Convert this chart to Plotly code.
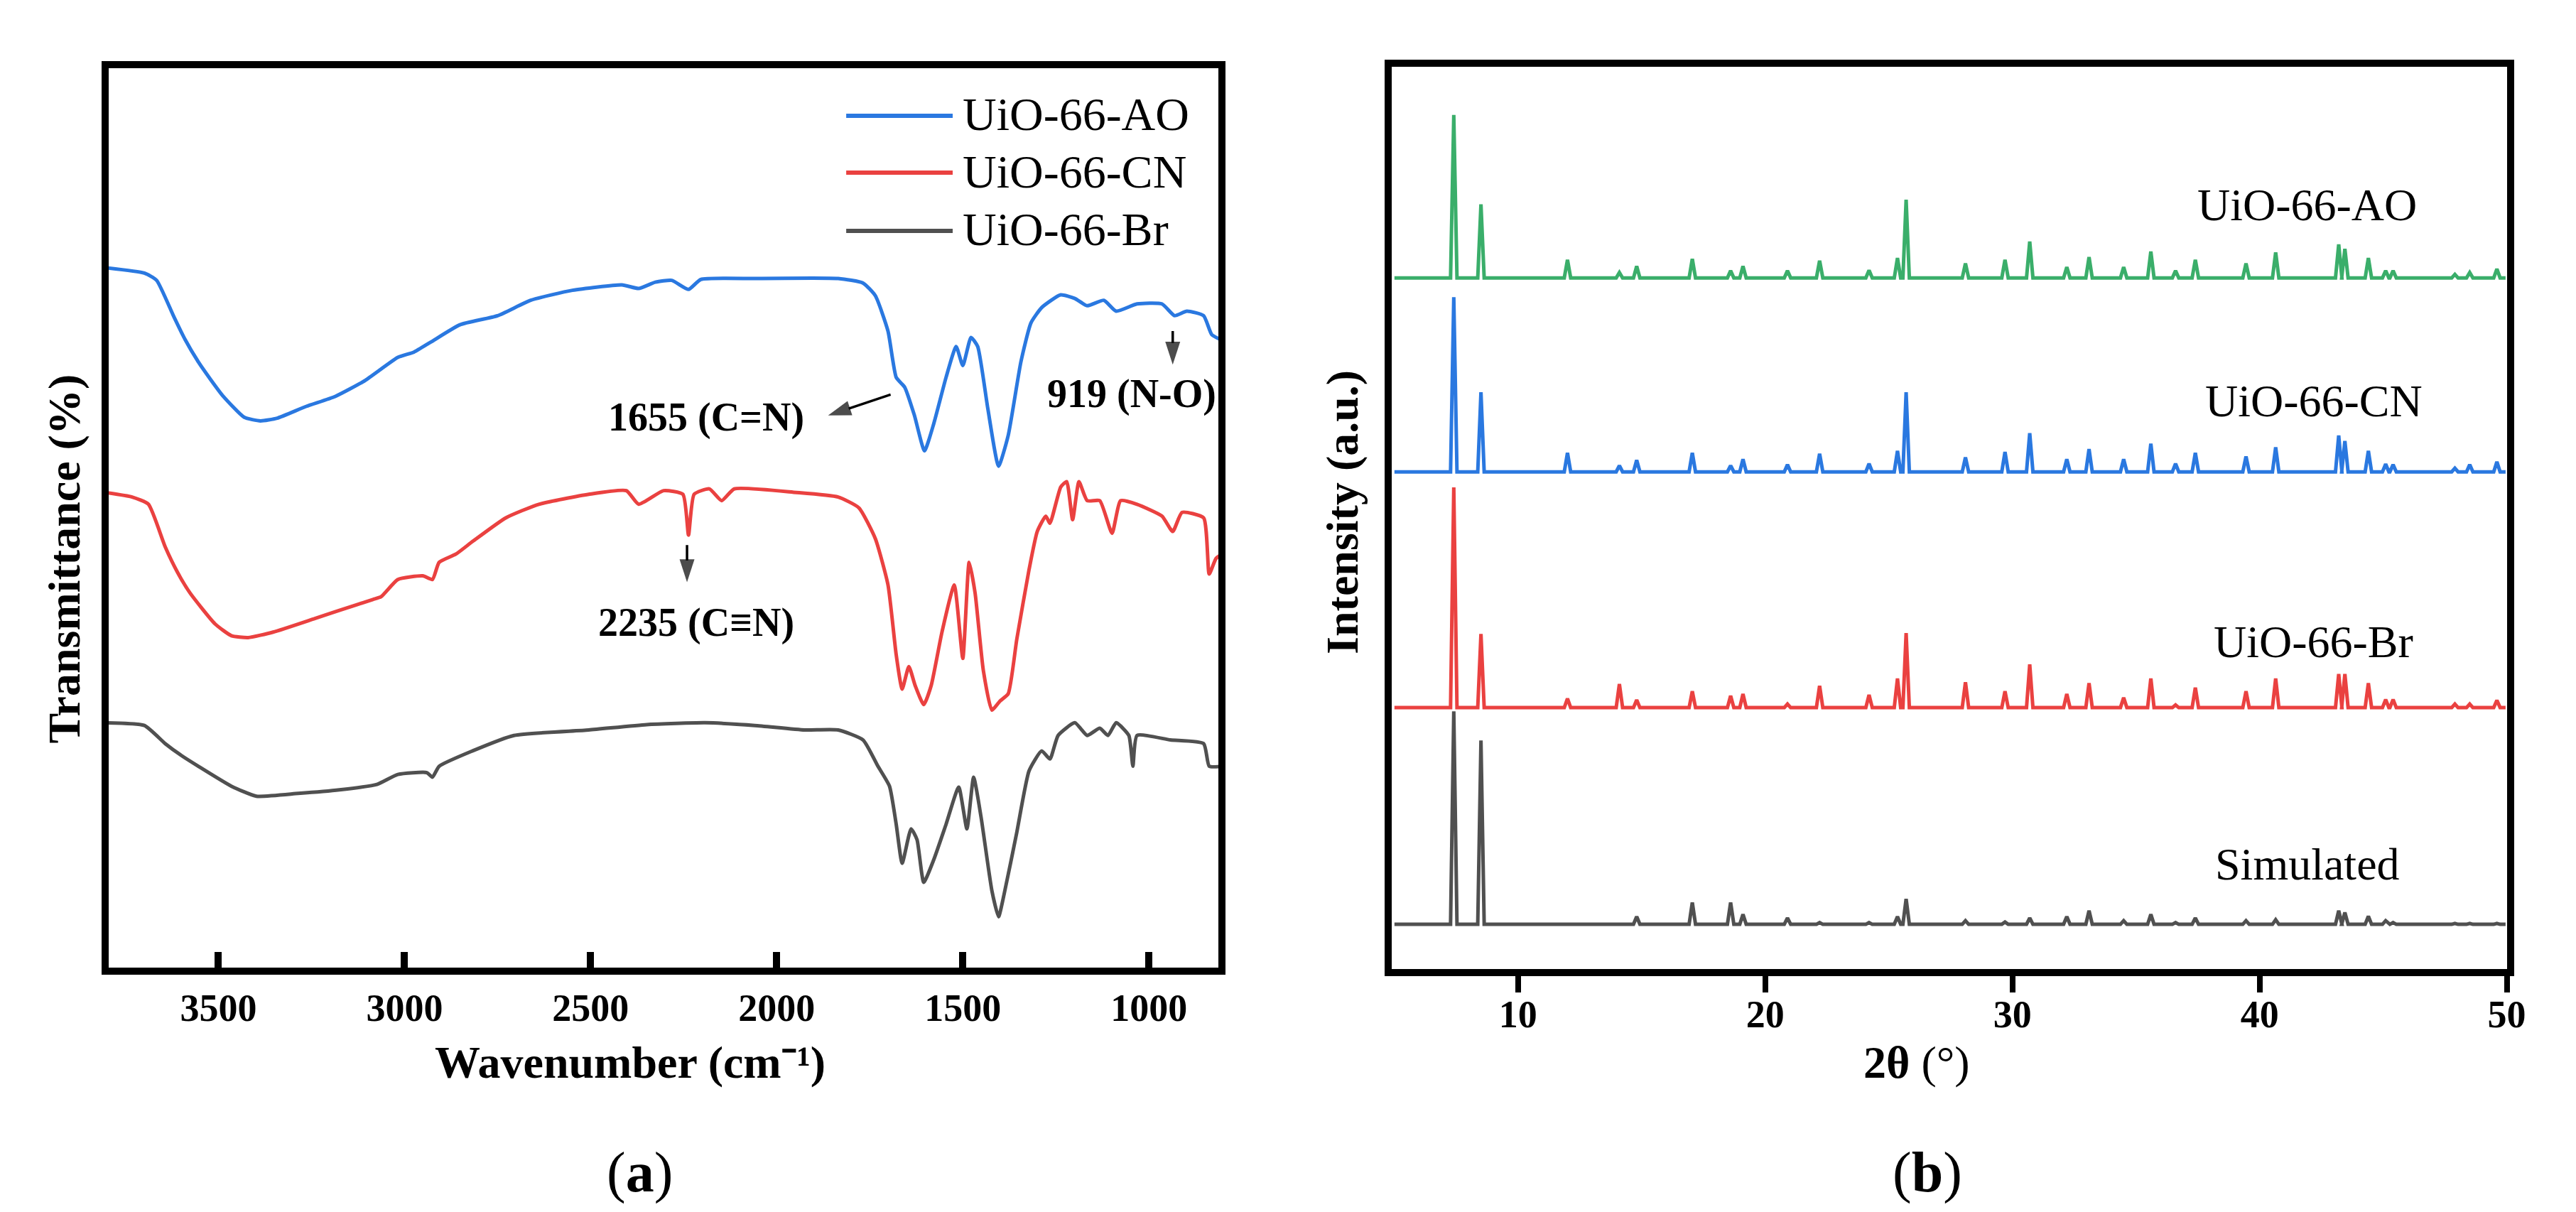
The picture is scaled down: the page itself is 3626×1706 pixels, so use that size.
import plotly.graph_objects as go

FONT = "Liberation Serif, Times New Roman, serif"
BLUE = "#2a78e0"
RED = "#ea4140"
GRAY = "#505050"
GREEN = "#3aae6a"

# ---------------- FTIR data (panel a) ----------------
ao_wn = [3804, 3699, 3666, 3621, 3590, 3554, 3520, 3487, 3431, 3387, 3342, 3264, 3186, 3108, 3018,
         2974, 2929, 2851, 2750, 2661, 2549, 2416, 2371, 2326, 2282, 2237, 2204, 2059, 1835, 1768,
         1735, 1701, 1679, 1656, 1630, 1603, 1578, 1545, 1518, 1500, 1478, 1460, 1433, 1404, 1378,
         1344, 1317, 1288, 1237, 1199, 1166, 1121, 1088, 1032, 965, 931, 898, 853, 831, 804]
ao_t = [77.6, 77.0, 76.2, 72.3, 69.7, 67.2, 65.2, 63.4, 61.1, 60.7, 61.0, 62.3, 63.4, 65.1, 67.7,
        68.3, 69.4, 71.3, 72.3, 74.0, 75.1, 75.7, 75.3, 76.0, 76.2, 75.2, 76.3, 76.4, 76.4, 75.9,
        74.5, 70.6, 65.5, 64.4, 61.3, 57.4, 60.4, 65.5, 68.9, 66.8, 69.9, 68.9, 62.1, 55.7, 59.1,
        67.2, 71.5, 73.2, 74.6, 74.2, 73.4, 74.0, 72.8, 73.6, 73.6, 72.3, 72.8, 72.3, 70.2, 69.6]

cn_wn = [3804, 3732, 3688, 3643, 3610, 3576, 3509, 3465, 3420, 3353, 3241, 3175, 3085, 3063, 3018,
         2951, 2925, 2907, 2862, 2817, 2728, 2639, 2505, 2404, 2371, 2304, 2252, 2237, 2222, 2181,
         2148, 2114, 1947, 1835, 1779, 1735, 1701, 1679, 1663, 1645, 1628, 1605, 1585, 1556, 1523,
         1500, 1483, 1467, 1445, 1422, 1400, 1378, 1355, 1322, 1300, 1277, 1266, 1237, 1221, 1205,
         1188, 1166, 1132, 1099, 1076, 1032, 965, 936, 911, 853, 838, 820, 804]
cn_t = [52.8, 52.3, 51.5, 46.8, 44.0, 41.7, 38.3, 37.0, 36.8, 37.4, 38.9, 39.8, 41.0, 41.3, 43.2,
        43.6, 43.2, 45.1, 46.0, 47.4, 50.0, 51.5, 52.6, 53.0, 51.5, 53.0, 52.6, 48.1, 52.6, 53.2,
        51.9, 53.2, 52.8, 52.3, 51.1, 47.7, 42.6, 34.9, 31.1, 33.6, 31.5, 29.4, 31.5, 37.4, 42.6,
        34.5, 45.1, 41.7, 33.2, 28.8, 29.8, 30.6, 36.6, 44.3, 48.5, 50.2, 49.4, 53.4, 54.0, 49.8,
        54.0, 51.9, 51.9, 48.3, 51.9, 51.5, 50.2, 48.5, 50.6, 50.0, 43.8, 45.5, 46.0]

br_wn = [3804, 3699, 3643, 3600, 3554, 3465, 3398, 3286, 3175, 3074, 3018, 2940, 2925, 2907, 2817,
         2706, 2505, 2349, 2192, 2059, 1925, 1835, 1768, 1728, 1697, 1679, 1663, 1639, 1623, 1605,
         1578, 1545, 1511, 1489, 1471, 1451, 1422, 1404, 1389, 1355, 1322, 1288, 1266, 1244, 1199,
         1166, 1132, 1110, 1088, 1054, 1043, 1032, 942, 853, 838, 804]
br_t = [27.4, 27.1, 25.1, 23.8, 22.6, 20.4, 19.3, 19.6, 20.0, 20.6, 21.7, 21.9, 21.4, 22.6, 24.3,
        26.0, 26.6, 27.2, 27.4, 27.1, 26.6, 26.6, 25.5, 22.6, 20.4, 16.2, 11.9, 15.7, 14.5, 9.8,
        12.3, 16.2, 20.3, 15.7, 21.4, 17.0, 8.9, 6.0, 8.5, 15.3, 22.1, 24.3, 23.4, 26.0, 27.4,
        26.0, 26.8, 26.0, 27.4, 26.0, 22.6, 26.0, 25.5, 25.1, 22.6, 22.6]

ftir_names = ["UiO-66-AO", "UiO-66-CN", "UiO-66-Br"]
wn_ticks = [3500, 3000, 2500, 2000, 1500, 1000]

# peak marks: label, label position, arrow head, arrow tail (wavenumber, transmittance)
mark_labels = ["1655 (C=N)", "919 (N-O)", "2235 (C≡N)"]
mark_text_pos = [(2190, 61.1), (1046, 63.7), (2217, 38.4)]
mark_head = [(1862, 61.3), (936, 66.9), (2241, 42.9)]
mark_tail = [(1694, 63.6), (936, 70.6), (2241, 47.0)]

# ---------------- XRD data (panel b) ----------------
two_theta_start, two_theta_end = 5.0, 49.95
peak_pos = [7.4, 8.5, 12.0, 14.1, 14.8, 17.05, 18.6, 19.1, 20.9, 22.2, 24.2, 25.35, 25.7, 28.1,
            29.7, 30.7, 32.2, 33.1, 34.5, 35.6, 36.6, 37.4, 39.45, 40.65, 43.2, 43.45, 44.4, 45.1,
            45.4, 47.9, 48.5, 49.6]
ao_base = 76.3
ao_h = [17.9, 8.1, 2.0, 0.6, 1.3, 2.1, 0.8, 1.3, 0.8, 1.9, 0.85, 2.2, 8.6, 1.6, 2.0, 4.0, 1.2,
        2.3, 1.2, 2.9, 0.8, 2.0, 1.6, 2.8, 3.7, 3.2, 2.2, 0.8, 0.8, 0.4, 0.6, 1.0]
cn_base = 55.0
cn_h = [19.2, 8.75, 2.1, 0.7, 1.3, 2.1, 0.7, 1.4, 0.8, 2.0, 0.9, 2.3, 8.75, 1.6, 2.2, 4.25, 1.4,
        2.5, 1.4, 3.1, 0.9, 2.1, 1.7, 2.7, 4.0, 3.4, 2.3, 0.85, 0.8, 0.4, 0.8, 1.1]
br_base = 29.1
br_h = [24.2, 8.1, 1.0, 2.6, 0.85, 1.8, 1.3, 1.5, 0.4, 2.4, 1.4, 3.2, 8.2, 2.8, 1.8, 4.75, 1.5,
        2.7, 1.1, 3.2, 0.3, 2.2, 1.8, 3.2, 3.7, 3.7, 2.7, 0.9, 0.9, 0.4, 0.4, 0.8]
sim_base = 5.3
sim_h = [23.4, 20.2, 0, 0, 0.85, 2.4, 2.4, 1.1, 0.7, 0.2, 0.2, 0.85, 2.8, 0.4, 0.25, 0.7, 0.85,
         1.5, 0.4, 1.1, 0.2, 0.7, 0.4, 0.5, 1.5, 1.3, 0.9, 0.4, 0.2, 0.1, 0.1, 0.1]
xrd_names = ["UiO-66-AO", "UiO-66-CN", "UiO-66-Br", "Simulated"]
tt_ticks = [10, 20, 30, 40, 50]

W, H = 3626, 1706


def px(x):
    return x / W


def py(y):
    return 1 - y / H


def spike_line(base, heights, half_width=0.13):
    xs, ys = [two_theta_start], [base]
    for p, h in zip(peak_pos, heights):
        if h <= 0:
            continue
        xs += [p - half_width, p, p + half_width]
        ys += [base, base + h, base]
    xs.append(two_theta_end)
    ys.append(base)
    return xs, ys


fig = go.Figure()

for wn, t, c, n in [(ao_wn, ao_t, BLUE, ftir_names[0]), (cn_wn, cn_t, RED, ftir_names[1]),
                    (br_wn, br_t, GRAY, ftir_names[2])]:
    fig.add_trace(go.Scatter(x=wn, y=t, mode="lines", name=n,
                             line=dict(color=c, width=5, shape="spline", smoothing=0.5),
                             xaxis="x", yaxis="y", showlegend=False))

# arrows pointing at peak labels
for (hx, hy), (sx, sy) in zip(mark_head, mark_tail):
    fig.add_trace(go.Scatter(x=[sx, hx], y=[sy, hy], mode="lines+markers",
                             line=dict(color="black", width=3.5),
                             marker=dict(symbol="arrow", size=[0, 34], angleref="previous",
                                         color="black", line=dict(width=0)),
                             xaxis="x", yaxis="y", showlegend=False, hoverinfo="skip"))

for base, hts, c, n in [(ao_base, ao_h, GREEN, xrd_names[0]), (cn_base, cn_h, BLUE, xrd_names[1]),
                        (br_base, br_h, RED, xrd_names[2]), (sim_base, sim_h, GRAY, xrd_names[3])]:
    xs, ys = spike_line(base, hts)
    fig.add_trace(go.Scatter(x=xs, y=ys, mode="lines", name=n, line=dict(color=c, width=5),
                             xaxis="x2", yaxis="y2", showlegend=False))

axis_common = dict(showline=True, linewidth=10, linecolor="black", mirror=True, showgrid=False,
                   zeroline=False)
tickfont = dict(family=FONT, size=54, color="black", weight="bold")

fig.update_layout(
    width=W, height=H, margin=dict(l=0, r=0, t=0, b=0),
    paper_bgcolor="white", plot_bgcolor="white",
    xaxis=dict(domain=[px(146), px(1720)], range=[3795, 813], tickvals=wn_ticks,
               ticks="inside", ticklen=22, tickwidth=10, tickcolor="black",
               tickfont=tickfont, anchor="y", **axis_common),
    yaxis=dict(domain=[py(1354), py(88)], range=[0.39, 99.6], showticklabels=False, ticks="",
               anchor="x", **axis_common),
    xaxis2=dict(domain=[px(1966), px(3547)], range=[4.9, 50], tickvals=tt_ticks,
                ticks="outside", ticklen=23, tickwidth=8, tickcolor="black",
                ticklabelstandoff=-16,
                tickfont=tickfont, anchor="y2", **axis_common),
    yaxis2=dict(domain=[py(1356), py(86)], range=[0.39, 99.5], showticklabels=False, ticks="",
                anchor="x2", **axis_common),
)

ann = []
# axis titles & panel labels
ann.append(dict(text="<b>Wavenumber (cm⁻¹)</b>", x=px(886), y=py(1487),
                font=dict(size=64)))
ann.append(dict(text="<b>Transmittance (%)</b>", x=px(83), y=py(778), textangle=-90,
                font=dict(size=64)))
ann.append(dict(text="<b>Intensity (a.u.)</b>", x=px(1895), y=py(713), textangle=-90,
                font=dict(size=64)))
ann.append(dict(text="<b>2θ</b> (°)", x=px(2710), y=py(1487), font=dict(size=64)))
ann.append(dict(text="(<b>a</b>)", x=px(899), y=py(1642), font=dict(size=80)))
ann.append(dict(text="(<b>b</b>)", x=px(2725), y=py(1642), font=dict(size=80)))

# legend for panel a (text)
for name, yy in zip(ftir_names, [153, 233, 315]):
    ann.append(dict(text=name, x=px(1355), y=py(yy), xanchor="left", font=dict(size=66)))

# XRD curve labels
for name, (xx, yy) in zip(xrd_names, [(3264, 281), (3273, 557), (3273, 895), (3264, 1208)]):
    ann.append(dict(text=name, x=px(xx), y=py(yy), font=dict(size=64)))

for a in ann:
    a.setdefault("xref", "paper")
    a.setdefault("yref", "paper")
    a.setdefault("showarrow", False)
    a.setdefault("xanchor", "center")
    a.setdefault("yanchor", "middle")
    a["font"] = dict(family=FONT, color="black", **a["font"])

# peak labels (data coordinates)
for txt, (tx, ty) in zip(mark_labels, mark_text_pos):
    ann.append(dict(text="<b>" + txt + "</b>", x=tx, y=ty, xref="x", yref="y", showarrow=False,
                    xanchor="center", yanchor="middle",
                    font=dict(family=FONT, size=56, color="black")))

fig.update_layout(annotations=ann)

# legend line samples for panel a
shapes = []
for c, yy in zip([BLUE, RED, GRAY], [155, 235, 317]):
    shapes.append(dict(type="line", xref="paper", yref="paper", x0=px(1192), x1=px(1343),
                       y0=py(yy), y1=py(yy), line=dict(color=c, width=6)))
fig.update_layout(shapes=shapes)

fig.write_html("out.html")
